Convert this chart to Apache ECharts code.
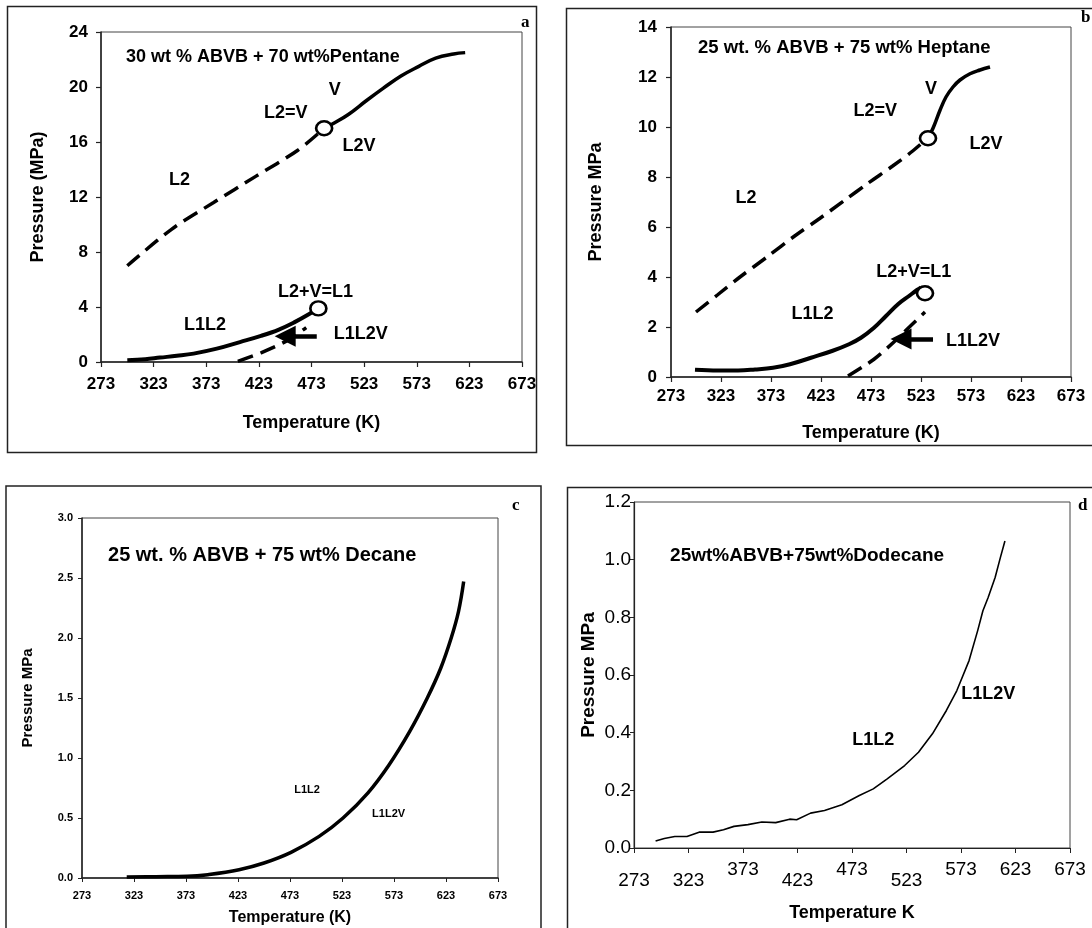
<!DOCTYPE html>
<html>
<head>
<meta charset="utf-8">
<script src="https://cdn.jsdelivr.net/npm/echarts@6/dist/echarts.min.js"></script>
<style>
  html, body { margin: 0; padding: 0; background: #fff; }
  #chart { width: 1092px; height: 928px; }
</style>
</head>
<body>
<div id="chart"></div>
<script>
// ---------- shared axis ticks ----------
const tempTicks = [273, 323, 373, 423, 473, 523, 573, 623, 673];

// ---------- (a) 30 wt % ABVB + 70 wt% Pentane ----------
const pentUpperDashT = [298, 340, 380, 420, 460, 485];
const pentUpperDashP = [7.0, 9.65, 11.6, 13.5, 15.4, 17.0];
const pentUpperSolidT = [485, 495, 508, 525, 541, 558, 575, 591, 608, 619];
const pentUpperSolidP = [17.0, 17.4, 18.0, 19.0, 19.9, 20.8, 21.5, 22.1, 22.4, 22.5];
const pentLowerSolidT = [298, 315, 329, 345, 361, 383, 405, 425, 442, 457, 470, 478];
const pentLowerSolidP = [0.12, 0.2, 0.32, 0.45, 0.61, 0.97, 1.45, 1.9, 2.36, 2.9, 3.45, 3.85];
const pentLowerDashT = [403, 425, 449, 468];
const pentLowerDashP = [0.05, 0.67, 1.52, 2.5];
const pentCriticalT = [485, 479.5];
const pentCriticalP = [17.0, 3.9];
const pentArrow = [[478, 1.88], [448, 1.88]];
const pentLabels = [
  ['30 wt % ABVB + 70 wt%Pentane', 426.8, 22.2],
  ['V', 495, 19.8], ['L2=V', 448.6, 18.1], ['L2V', 518.2, 15.7], ['L2', 347.6, 13.2],
  ['L2+V=L1', 476.8, 5.06], ['L1L2', 371.8, 2.72], ['L1L2V', 519.9, 2.0]
];

// ---------- (b) 25 wt. % ABVB + 75 wt% Heptane ----------
const heptUpperDashT = [298, 320, 342, 369, 397, 422, 446, 470, 495, 515, 530];
const heptUpperDashP = [2.6, 3.3, 4.0, 4.8, 5.65, 6.35, 7.05, 7.75, 8.45, 9.05, 9.57];
const heptUpperSolidT = [530, 535, 542, 548, 555, 562, 572, 582, 592];
const heptUpperSolidP = [9.55, 9.95, 10.67, 11.2, 11.6, 11.88, 12.13, 12.28, 12.4];
const heptLowerSolidT = [297, 320, 340, 357, 375, 392, 413, 434, 451, 463, 476, 488, 500, 511, 519, 523];
const heptLowerSolidP = [0.29, 0.26, 0.26, 0.3, 0.37, 0.51, 0.77, 1.04, 1.31, 1.57, 1.97, 2.44, 2.91, 3.24, 3.48, 3.58];
const heptLowerDashT = [450, 476, 497, 514, 527];
const heptLowerDashP = [0.04, 0.71, 1.44, 2.1, 2.6];
const heptCriticalT = [530, 527];
const heptCriticalP = [9.55, 3.35];
const heptArrow = [[535, 1.52], [503, 1.52]];
const heptLabels = [
  ['25 wt. % ABVB + 75 wt% Heptane', 446.3, 13.17],
  ['V', 533, 11.5], ['L2=V', 477.3, 10.64], ['L2V', 588, 9.3], ['L2', 348, 7.17],
  ['L2+V=L1', 515.8, 4.21], ['L1L2', 414.5, 2.5], ['L1L2V', 575, 1.44]
];

// ---------- (c) 25 wt. % ABVB + 75 wt% Decane ----------
const decT = [316, 344, 374, 394, 424, 448, 474, 501, 524, 548, 568, 588, 605, 618, 628, 635, 640];
const decP = [0.008, 0.011, 0.014, 0.028, 0.069, 0.125, 0.214, 0.347, 0.5, 0.71, 0.94, 1.22, 1.5, 1.75, 2.0, 2.22, 2.47];
const decLabels = [
  ['25 wt. % ABVB + 75 wt% Decane', 446.3, 2.69],
  ['L1L2', 489.4, 0.73], ['L1L2V', 567.8, 0.53]
];

// ---------- (d) 25 wt% ABVB + 75 wt% Dodecane ----------
const dodT = [292.8, 300.8, 310.4, 321.6, 332.7, 345.5, 355.1, 364.7, 377.5, 390.3, 403, 415.8, 422.2,
              435, 447.8, 463.7, 479.7, 492.5, 505.3, 521.3, 534, 546.8, 559.6, 569.2, 580.4, 588.3,
              593.1, 597.9, 604.3, 609.1, 613.3];
const dodP = [0.024, 0.033, 0.040, 0.040, 0.055, 0.055, 0.063, 0.075, 0.081, 0.090, 0.088, 0.100, 0.098,
              0.121, 0.130, 0.150, 0.182, 0.205, 0.240, 0.286, 0.332, 0.396, 0.477, 0.546, 0.650, 0.754,
              0.823, 0.869, 0.938, 1.007, 1.065];
const dodLabels = [
  ['25wt%ABVB+75wt%Dodecane', 431.8, 1.013],
  ['L1L2', 492.5, 0.373], ['L1L2V', 597.9, 0.534]
];

const zip = (xs, ys) => xs.map((x, i) => [x, ys[i]]);

const FONT = '"Liberation Sans", Arial, Helvetica, sans-serif';
const SERIF = '"Liberation Serif", "DejaVu Serif", serif';
const INK = '#000';
const AXIS = '#222';

function xAxisFor(grid, o) {
  return Object.assign({
    type: 'value', gridIndex: grid, min: 273, max: 673, interval: 50,
    name: 'Temperature (K)', nameLocation: 'middle',
    nameTextStyle: { color: INK, fontFamily: FONT, fontWeight: 'bold', fontSize: 18 },
    axisLine: { show: true, lineStyle: { color: AXIS, width: 1.5 } },
    axisTick: { show: true, inside: false, length: 5, lineStyle: { color: AXIS, width: 1.2 } },
    axisLabel: { color: INK, fontFamily: FONT, fontWeight: 'bold', fontSize: 17 },
    splitLine: { show: false }
  }, o);
}
function yAxisFor(grid, o) {
  return Object.assign({
    type: 'value', gridIndex: grid, min: 0,
    nameLocation: 'middle', nameRotate: 90,
    nameTextStyle: { color: INK, fontFamily: FONT, fontWeight: 'bold', fontSize: 18 },
    axisLine: { show: true, lineStyle: { color: AXIS, width: 1.5 } },
    axisTick: { show: true, inside: false, length: 5, lineStyle: { color: AXIS, width: 1.2 } },
    axisLabel: { color: INK, fontFamily: FONT, fontWeight: 'bold', fontSize: 17 },
    splitLine: { show: false }
  }, o);
}

function curve(grid, xs, ys, dashed, width, smooth) {
  return {
    type: 'line', xAxisIndex: grid, yAxisIndex: grid, data: zip(xs, ys),
    showSymbol: false, symbol: 'none', smooth: smooth,
    lineStyle: { color: INK, width: width, type: dashed ? [16, 8] : 'solid', cap: 'butt', opacity: 1 },
    silent: true, z: 3
  };
}
function critical(grid, xs, ys) {
  return {
    type: 'scatter', xAxisIndex: grid, yAxisIndex: grid, data: zip(xs, ys),
    symbol: 'circle', symbolSize: [16, 14],
    itemStyle: { color: '#fff', borderColor: INK, borderWidth: 2.5, opacity: 1 },
    silent: true, z: 6
  };
}
function arrow(grid, pts) {
  return {
    type: 'line', xAxisIndex: grid, yAxisIndex: grid, data: [], silent: true,
    markLine: {
      silent: true, animation: false,
      symbol: ['none', 'triangle'], symbolSize: 21,
      itemStyle: { color: INK },
      lineStyle: { color: INK, width: 4.5, type: 'solid', opacity: 1 },
      label: { show: false },
      data: [[{ coord: pts[0] }, { coord: pts[1] }]]
    }
  };
}
function texts(grid, items, style) {
  return {
    type: 'scatter', xAxisIndex: grid, yAxisIndex: grid,
    data: items.map(t => ({ name: t[0], value: [t[1], t[2]] })),
    symbolSize: 1, itemStyle: { color: 'rgba(0,0,0,0)' }, silent: true, z: 8,
    label: Object.assign({ show: true, position: 'inside', formatter: '{b}', color: INK,
      textBorderWidth: 0, opacity: 1 }, style)
  };
}

const dodLow = [273, 323, 423, 523];

const option = {
  animation: false,
  backgroundColor: '#fff',
  grid: [
    { left: 101, top: 32, width: 421, height: 330, show: true, borderColor: '#444', borderWidth: 1, backgroundColor: 'transparent' },
    { left: 671, top: 27, width: 400, height: 350, show: true, borderColor: '#444', borderWidth: 1, backgroundColor: 'transparent' },
    { left: 82, top: 518, width: 416, height: 360, show: true, borderColor: '#444', borderWidth: 1, backgroundColor: 'transparent' },
    { left: 634, top: 502, width: 436, height: 346, show: true, borderColor: '#444', borderWidth: 1, backgroundColor: 'transparent' }
  ],
  xAxis: [
    xAxisFor(0, { nameGap: 52, axisLabel: { color: INK, fontFamily: FONT, fontWeight: 'bold', fontSize: 17, margin: 14 } }),
    xAxisFor(1, { nameGap: 47, axisLabel: { color: INK, fontFamily: FONT, fontWeight: 'bold', fontSize: 17, margin: 11 } }),
    xAxisFor(2, { nameGap: 32,
      nameTextStyle: { color: INK, fontFamily: FONT, fontWeight: 'bold', fontSize: 16 },
      axisTick: { show: true, length: 4, lineStyle: { color: AXIS } },
      axisLabel: { color: INK, fontFamily: FONT, fontWeight: 'bold', fontSize: 11, margin: 12 } }),
    xAxisFor(3, { name: 'Temperature K', nameGap: 56,
      nameTextStyle: { color: INK, fontFamily: FONT, fontWeight: 'bold', fontSize: 18 },
      axisLine: { show: true, lineStyle: { color: AXIS, width: 1.2 } },
      axisTick: { show: true, length: 5, lineStyle: { color: AXIS } },
      axisLabel: {
        color: INK, fontFamily: FONT, fontSize: 19, margin: 12,
        formatter: v => (dodLow.indexOf(v) >= 0 ? '{lo|' + v + '}' : '{hi|' + v + '}'),
        rich: {
          lo: { fontFamily: FONT, fontSize: 19, color: INK, lineHeight: 42 },
          hi: { fontFamily: FONT, fontSize: 19, color: INK, lineHeight: 20 }
        }
      } })
  ],
  yAxis: [
    yAxisFor(0, { max: 24, interval: 4, name: 'Pressure (MPa)', nameGap: 54,
      axisLabel: { color: INK, fontFamily: FONT, fontWeight: 'bold', fontSize: 17, margin: 13 } }),
    yAxisFor(1, { max: 14, interval: 2, name: 'Pressure MPa', nameGap: 66,
      axisLabel: { color: INK, fontFamily: FONT, fontWeight: 'bold', fontSize: 17, margin: 14 } }),
    yAxisFor(2, { max: 3, interval: 0.5, name: 'Pressure MPa', nameGap: 47,
      nameTextStyle: { color: INK, fontFamily: FONT, fontWeight: 'bold', fontSize: 15 },
      axisTick: { show: true, length: 4, lineStyle: { color: AXIS } },
      axisLabel: { color: INK, fontFamily: FONT, fontWeight: 'bold', fontSize: 11, margin: 9,
        formatter: v => v.toFixed(1) } }),
    yAxisFor(3, { max: 1.2, interval: 0.2, name: 'Pressure MPa', nameGap: 36,
      nameTextStyle: { color: INK, fontFamily: FONT, fontWeight: 'bold', fontSize: 19 },
      axisLine: { show: true, lineStyle: { color: AXIS, width: 1.2 } },
      axisTick: { show: true, length: 4, lineStyle: { color: AXIS } },
      axisLabel: { color: INK, fontFamily: FONT, fontSize: 19, margin: 3,
        formatter: v => v.toFixed(1) } })
  ],
  series: [
    // (a) pentane
    curve(0, pentUpperDashT, pentUpperDashP, true, 3.5, 0.3),
    curve(0, pentUpperSolidT, pentUpperSolidP, false, 3.5, 0.4),
    curve(0, pentLowerSolidT, pentLowerSolidP, false, 4, 0.4),
    curve(0, pentLowerDashT, pentLowerDashP, true, 3.5, 0.3),
    arrow(0, pentArrow),
    critical(0, pentCriticalT, pentCriticalP),
    texts(0, pentLabels.slice(0, 1), { fontFamily: FONT, fontWeight: 'bold', fontSize: 18 }),
    texts(0, pentLabels.slice(1), { fontFamily: FONT, fontWeight: 'bold', fontSize: 18 }),
    // (b) heptane
    curve(1, heptUpperDashT, heptUpperDashP, true, 3.5, 0.3),
    curve(1, heptUpperSolidT, heptUpperSolidP, false, 3.5, 0.4),
    curve(1, heptLowerSolidT, heptLowerSolidP, false, 4, 0.4),
    curve(1, heptLowerDashT, heptLowerDashP, true, 3.5, 0.3),
    arrow(1, heptArrow),
    critical(1, heptCriticalT, heptCriticalP),
    texts(1, heptLabels.slice(0, 1), { fontFamily: FONT, fontWeight: 'bold', fontSize: 18.5 }),
    texts(1, heptLabels.slice(1), { fontFamily: FONT, fontWeight: 'bold', fontSize: 18 }),
    // (c) decane
    curve(2, decT, decP, false, 3.5, 0.4),
    texts(2, decLabels.slice(0, 1), { fontFamily: FONT, fontWeight: 'bold', fontSize: 20 }),
    texts(2, decLabels.slice(1), { fontFamily: FONT, fontWeight: 'bold', fontSize: 11 }),
    // (d) dodecane
    curve(3, dodT, dodP, false, 1.6, false),
    texts(3, dodLabels.slice(0, 1), { fontFamily: FONT, fontWeight: 'bold', fontSize: 19 }),
    texts(3, dodLabels.slice(1), { fontFamily: FONT, fontWeight: 'bold', fontSize: 18 })
  ],
  graphic: [
    // panel frames
    { type: 'rect', shape: { x: 7.5, y: 6.5, width: 529, height: 446 }, style: { fill: 'none', stroke: '#222', lineWidth: 1.5 }, silent: true },
    { type: 'rect', shape: { x: 566.5, y: 8.5, width: 540, height: 437 }, style: { fill: 'none', stroke: '#222', lineWidth: 1.5 }, silent: true },
    { type: 'rect', shape: { x: 6, y: 486, width: 535, height: 460 }, style: { fill: 'none', stroke: '#222', lineWidth: 1.5 }, silent: true },
    { type: 'rect', shape: { x: 567.5, y: 487.5, width: 540, height: 460 }, style: { fill: 'none', stroke: '#222', lineWidth: 1.5 }, silent: true },
    // panel letters
    { type: 'text', left: 521, top: 14, style: { text: 'a', font: 'bold 17px ' + SERIF, fill: INK }, silent: true },
    { type: 'text', left: 1081, top: 9, style: { text: 'b', font: 'bold 17px ' + SERIF, fill: INK }, silent: true },
    { type: 'text', left: 512, top: 497, style: { text: 'c', font: 'bold 17px ' + SERIF, fill: INK }, silent: true },
    { type: 'text', left: 1078, top: 497, style: { text: 'd', font: 'bold 17px ' + SERIF, fill: INK }, silent: true }
  ]
};

const chart = echarts.init(document.getElementById('chart'), null, { renderer: 'canvas' });
chart.setOption(option);
</script>
</body>
</html>
